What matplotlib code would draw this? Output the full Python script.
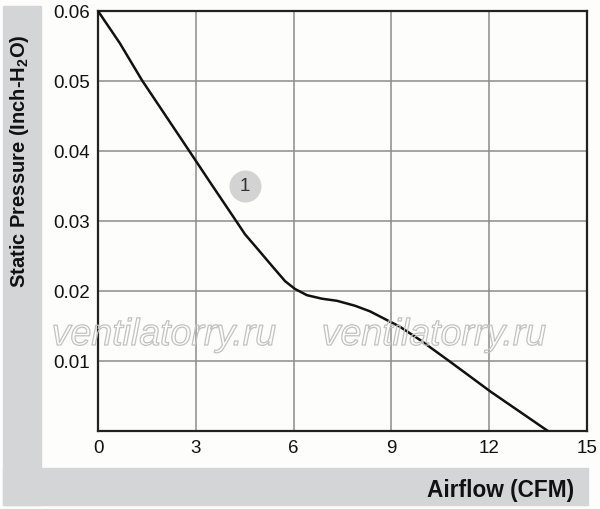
import matplotlib
matplotlib.use("Agg")
import matplotlib.pyplot as plt
from matplotlib.patches import Rectangle
import matplotlib.patheffects as pe

plt.rcParams['font.family'] = ['Liberation Sans', 'DejaVu Sans']
plt.rcParams['mathtext.fontset'] = 'custom'
plt.rcParams['mathtext.rm'] = 'Liberation Sans'
plt.rcParams['mathtext.bf'] = 'Liberation Sans:bold'

# curve
airflow = [0, 0.67, 1.35, 2.8, 3.5, 4.05, 4.51, 4.97, 5.37, 5.74, 6.04, 6.41,
           6.87, 7.33, 7.88, 8.34, 8.8, 9.26, 9.88, 10.8, 12.05, 13.8]
pressure = [0.06, 0.0554, 0.0501, 0.04, 0.0351, 0.0313, 0.0281, 0.0256, 0.0234,
            0.0214, 0.0203, 0.0194, 0.0189, 0.0186, 0.0179, 0.0171, 0.016,
            0.0149, 0.013, 0.0099, 0.0056, 0.0]

x_ticks = [0, 3, 6, 9, 12, 15]
y_ticks = [0.01, 0.02, 0.03, 0.04, 0.05, 0.06]
y_tick_labels = ['0.01', '0.02', '0.03', '0.04', '0.05', '0.06']

W, H = 600, 510
fig = plt.figure(figsize=(6, 5.1), dpi=100)
fig.patch.set_facecolor('#fdfdfc')

band = '#d4d5d7'
# L-shaped gray band (left + bottom)
fig.patches.append(Rectangle((3 / W, (H - 506) / H), 38 / W, 499 / H,
                             transform=fig.transFigure, color=band, zorder=0))
fig.patches.append(Rectangle((3 / W, (H - 506) / H), 585 / W, 37 / H,
                             transform=fig.transFigure, color=band, zorder=0))

ax = fig.add_axes([98 / W, (H - 432) / H, 489 / W, 420 / H])
ax.set_facecolor('#fdfdfc')
ax.set_xlim(0, 15)
ax.set_ylim(0, 0.06)
ax.set_xticks(x_ticks)
ax.set_yticks(y_ticks)
ax.set_yticklabels(y_tick_labels)
ax.tick_params(length=0, labelsize=13.5, colors='#111111', pad=6)
ax.grid(True, color='#8c8c8c', linewidth=1.1)
for s in ax.spines.values():
    s.set_color('#222222')
    s.set_linewidth(1.6)

ax.plot(airflow, pressure, color='#111111', linewidth=1.8, zorder=3)

# curve number badge
ax.scatter([4.51], [0.035], s=530, color='#d3d3d3', zorder=4, linewidths=0)
ax.text(4.51, 0.035, '1', ha='center', va='center', fontsize=13.5,
        color='#333333', zorder=5)

# watermarks (outline only)
for wx in [164, 434]:
    fig.text(wx / W, (H - 336) / H, 'ventilatorry.ru', ha='center',
             va='center', fontsize=27, style='italic', color='none',
             path_effects=[pe.withStroke(linewidth=0.9, foreground='#c2c2c2')],
             zorder=10)

fig.text(20 / W, (H - 161) / H, r'Static Pressure (Inch-H$_\mathbf{2}$O)',
         rotation=90, ha='center', va='center', fontsize=14.5,
         fontweight='bold', color='#111111')
fig.text(574 / W, (H - 491) / H, 'Airflow (CFM)', ha='right', va='center',
         fontsize=16.3, fontweight='bold', color='#111111')

fig.savefig('out.png', dpi=100, facecolor=fig.get_facecolor())
